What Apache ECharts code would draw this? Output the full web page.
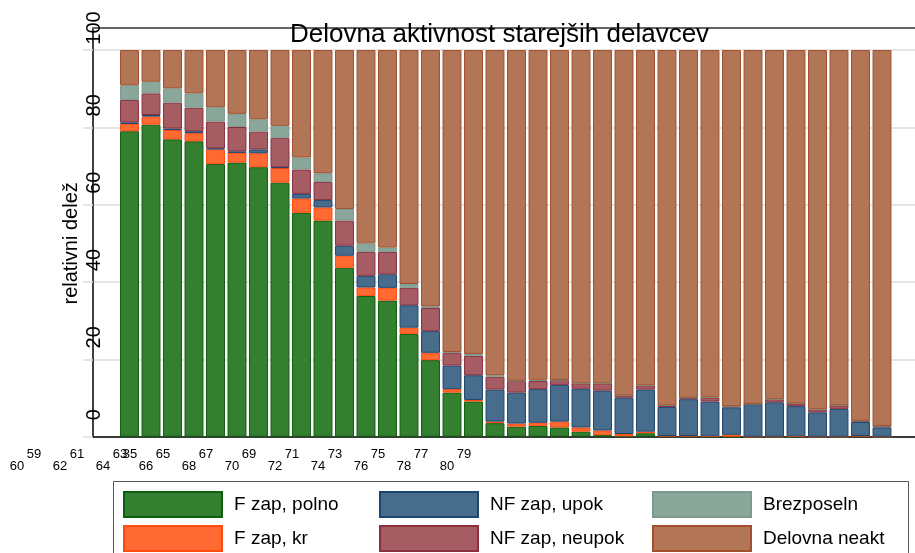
<!DOCTYPE html>
<html lang="en">
<head>
  <meta charset="UTF-8">
  <title>Delovna aktivnost starejših delavcev</title>
</head>
<body style="margin:0;background:#fff;">
  <div id="main" style="width:915px;height:553px;"></div>
<script src="https://cdn.jsdelivr.net/npm/echarts@6/dist/echarts.min.js"></script>
<script>
  // 36 stolpcev, vrednosti v % (od spodaj navzgor)
  var bars = [];
  for (var i = 1; i <= 36; i++) bars.push(String(i));

  var fPolno  = [79.0, 80.7, 76.9, 76.4, 70.5, 70.9, 69.7, 65.7, 57.9, 55.9, 43.7, 36.4, 35.2, 26.6, 19.8, 11.4, 9.1, 3.5,
                 2.6, 2.8, 2.4, 1.3, 0.4, 0.1, 0.9, 0.2, 0.2, 0, 0, 0, 0, 0, 0, 0, 0.2, 0];
  var fKr     = [1.9, 2.1, 2.4, 2.1, 3.8, 2.5, 3.6, 3.8, 3.7, 3.4, 3.1, 2.2, 3.3, 1.6, 1.9, 0.9, 0.4, 0.4,
                 0.8, 0.8, 1.5, 1.1, 1.2, 0.6, 0.4, 0, 0, 0.1, 0.5, 0, 0, 0.1, 0, 0, 0, 0];
  var nfUpok  = [0.4, 0.4, 0.4, 0.5, 0.3, 0.4, 1.0, 0.2, 1.2, 1.9, 2.6, 3.0, 3.5, 5.8, 5.6, 6.1, 6.4, 8.3,
                 8.0, 8.7, 9.5, 10.0, 10.3, 9.4, 10.9, 7.5, 9.5, 9.0, 7.1, 8.4, 8.9, 7.8, 6.3, 7.2, 3.6, 2.4];
  var nfNeupok = [5.8, 5.6, 6.7, 6.1, 6.9, 6.3, 4.6, 7.6, 6.3, 4.7, 6.5, 6.2, 5.8, 4.5, 6.0, 3.3, 5.0, 3.3,
                 3.0, 2.1, 1.3, 1.4, 1.9, 0.6, 1.1, 0.4, 0.4, 1.0, 0.3, 0.1, 0.8, 0.7, 0.8, 0.9, 0.3, 0.4];
  var brezposeln = [3.8, 3.0, 3.7, 3.7, 3.7, 3.4, 3.2, 3.1, 3.1, 2.2, 3.0, 2.2, 1.1, 1.0, 0.4, 0.2, 0.5, 0.4,
                 0.1, 0.3, 0, 0, 0, 0, 0, 0, 0, 0.1, 0, 0, 0, 0, 0, 0, 0, 0];
  var neakt   = [9.1, 8.2, 9.9, 11.2, 14.8, 16.5, 17.9, 19.6, 27.8, 31.9, 41.1, 50.0, 51.1, 60.5, 66.3, 78.1, 78.6, 84.1,
                 85.5, 85.3, 85.3, 86.2, 86.2, 89.3, 86.7, 91.9, 89.9, 89.8, 92.1, 91.5, 90.3, 91.4, 92.9, 91.9, 95.9, 97.2];

  // oznake pod osjo x (dve vrsti)
  var evenTicks = [60, 62, 64, 66, 68, 70, 72, 74, 76, 78, 80];
  var oddTicks  = [59, 61, 63, 63.47, 65, 67, 69, 71, 73, 75, 77, 79];
  var oddLabels = ['59', '61', '63', '35', '65', '67', '69', '71', '73', '75', '77', '79'];
  var yTicks = [0, 20, 40, 60, 80, 100];

  var font = 'Liberation Sans, Arial, sans-serif';
  var chartDom = document.getElementById('main');
  var myChart = echarts.init(chartDom);

  var names = ['F zap, polno', 'F zap, kr', 'NF zap, upok', 'NF zap, neupok', 'Brezposeln', 'Delovna neakt'];
  var values = [fPolno, fKr, nfUpok, nfNeupok, brezposeln, neakt];
  var fills = ['#357f31', '#ff6a33', '#486c8c', '#a65c63', '#8ba69a', '#b27555'];
  var borders = ['#0d5e0d', '#ff4a10', '#1c4670', '#8b2e3e', '#7a9a8c', '#a0502e'];

  var series = names.map(function (n, k) {
    return {
      name: n,
      type: 'bar',
      stack: 'a',
      xAxisIndex: 2,
      yAxisIndex: 1,
      barCategoryGap: '12%',
      itemStyle: { color: fills[k], borderColor: borders[k], borderWidth: 1 },
      emphasis: { disabled: true },
      data: values[k]
    };
  });

  function legendCol(left, data) {
    return {
      orient: 'vertical',
      left: left,
      top: 491,
      padding: 0,
      itemWidth: 98,
      itemHeight: 25,
      itemGap: 7,
      icon: 'rect',
      selectedMode: false,
      textStyle: { fontSize: 19, color: '#000', fontFamily: font, padding: [0, 0, 0, 7] },
      data: data
    };
  }

  var option = {
    backgroundColor: '#fff',
    animation: false,
    title: {
      text: 'Delovna aktivnost starejših delavcev',
      left: 290,
      top: 22,
      padding: 0,
      textStyle: { fontSize: 26, fontWeight: 'normal', color: '#000', fontFamily: font }
    },
    grid: [
      { left: 93, right: 0, top: 28, bottom: 116.3 },
      { left: 118.75, width: 774, top: 28, bottom: 116.3 },
      { left: 0, right: 0, top: 28, bottom: 116.3 },
      { left: 0, right: 0, top: 28, bottom: 116.3 }
    ],
    xAxis: [
      { gridIndex: 0, type: 'value', min: 0, max: 1, position: 'bottom',
        axisLine: { show: true, lineStyle: { color: '#000', width: 1.5 } },
        axisTick: { show: false }, axisLabel: { show: false }, splitLine: { show: false } },
      { gridIndex: 0, type: 'value', min: 0, max: 1, position: 'top',
        axisLine: { show: true, lineStyle: { color: '#666', width: 2 } },
        axisTick: { show: false }, axisLabel: { show: false }, splitLine: { show: false } },
      { gridIndex: 1, type: 'category', data: bars, show: false },
      { gridIndex: 2, type: 'value', min: 59.209, max: 101.767, position: 'bottom',
        axisLine: { show: false }, axisTick: { show: false }, splitLine: { show: false },
        axisLabel: { customValues: evenTicks, margin: 23, fontSize: 13, color: '#000', fontFamily: font } },
      { gridIndex: 3, type: 'value', min: 57.419, max: 99.977, position: 'bottom',
        axisLine: { show: false }, axisTick: { show: false }, splitLine: { show: false },
        axisLabel: {
          customValues: oddTicks, margin: 11, fontSize: 13, color: '#000', fontFamily: font,
          formatter: function (v) { return oddLabels[oddTicks.indexOf(v)]; }
        } }
    ],
    yAxis: [
      { gridIndex: 0, type: 'value', min: 0, max: 105.7,
        name: 'relativni delež', nameLocation: 'middle', nameGap: 12, nameMoveOverlap: false,
        nameTextStyle: { fontSize: 20, color: '#000', fontFamily: font, padding: [0, 22, 0, 0] },
        axisLine: { show: true, lineStyle: { color: '#000', width: 1.5 } },
        axisTick: { show: true, customValues: yTicks, length: 10, lineStyle: { color: '#ddd', width: 1.5 } },
        splitLine: { show: true, lineStyle: { color: '#ddd', width: 1.5 } },
        axisLabel: {
          customValues: yTicks, rotate: 90, margin: -11, fontSize: 20, color: '#000', fontFamily: font,
          padding: [0, 0, 0, 44]
        } },
      { gridIndex: 1, type: 'value', min: 0, max: 105.7, show: false, splitLine: { show: false } },
      { gridIndex: 2, type: 'value', show: false },
      { gridIndex: 3, type: 'value', show: false }
    ],
    legend: [
      legendCol(123, ['F zap, polno', 'F zap, kr']),
      legendCol(379, ['NF zap, upok', 'NF zap, neupok']),
      legendCol(652, ['Brezposeln', 'Delovna neakt'])
    ],
    graphic: [
      { type: 'rect', silent: true, z: -1,
        shape: { x: 113.5, y: 481.5, width: 795, height: 90 },
        style: { fill: 'none', stroke: '#555', lineWidth: 1 } }
    ],
    series: series
  };

  option && myChart.setOption(option);
</script>
</body>
</html>
